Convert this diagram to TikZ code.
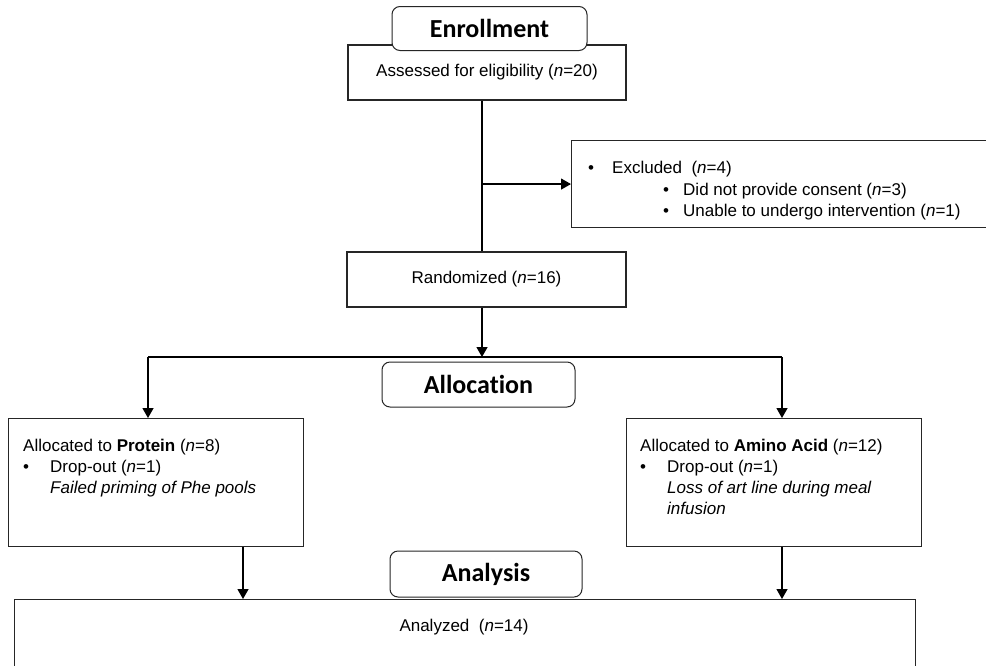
\documentclass[tikz,border=0pt]{standalone}
\usepackage{fontspec}
\setmainfont{Liberation Sans}
\newfontfamily\headfont[Ligatures=NoCommon]{Carlito}
\usetikzlibrary{arrows.meta}

\begin{document}
\begin{tikzpicture}[x=1pt, y=-1pt,
  box/.style={draw=black!85, line width=1.1pt, fill=white, inner sep=0pt,
    font=\fontsize{17}{21}\selectfont},
  stage/.style={draw=black!85, line width=1pt, rounded corners=8pt, fill=white,
    inner sep=0pt, minimum height=44pt,
    font=\headfont\bfseries\fontsize{26}{28}\selectfont},
  txt/.style={inner sep=0pt, anchor=base west, font=\fontsize{17}{21}\selectfont},
  link/.style={line width=1.3pt},
  arr/.style={line width=1.3pt, -{Triangle[length=10pt, width=11pt]}}]

\clip (0,0) rectangle (986,665);
\fill[white] (0,0) rectangle (986,665);

% trunk and branch positions
\coordinate (trunk) at (482,0);
\coordinate (colL) at (148,357);
\coordinate (colR) at (782,357);
\coordinate (dropL) at (243,0);

% enrollment
\node[box, minimum width=278pt, minimum height=55pt] (assess) at (487,72.5)
  {Assessed for eligibility (\textit{n}=20)};
\node[stage, minimum width=195pt] (enroll) at (489.5,28.5) {Enrollment};

\node[box, anchor=north west, minimum width=425pt, minimum height=87pt] (excl) at (571,140) {};
\node[txt] (b1) at (588,173) {•};
\node[txt] (e1) at (612,173) {Excluded\ \ (\textit{n}=4)};
\node[txt] (b2) at (663,195) {•};
\node[txt] (e2) at (683,195) {Did not provide consent (\textit{n}=3)};
\node[txt] (b3) at (663,216) {•};
\node[txt] (e3) at (683,216) {Unable to undergo intervention (\textit{n}=1)};

\node[box, minimum width=279pt, minimum height=55pt] (rand) at (486.5,279.5)
  {Randomized (\textit{n}=16)};

\draw[link] (assess.south -| trunk) -- (rand.north -| trunk);
\draw[arr] (trunk |- excl.west) -- (excl.west);

% allocation
\draw[arr] (rand.south -| trunk) -- (trunk |- colL);
\draw[link] (colL) -- (colR);
\node[stage, minimum width=193pt, minimum height=45pt] (alloc) at (478.5,384.5) {Allocation};

\node[box, anchor=north west, minimum width=295pt, minimum height=128pt] (prot) at (8,418) {};
\node[txt] (p1) at (23,451) {Allocated to \textbf{Protein} (\textit{n}=8)};
\node[txt] (p2) at (23,472) {•};
\node[txt] (p3) at (50,472) {Drop-out (\textit{n}=1)};
\node[txt] (p4) at (50,493) {\itshape Failed priming of Phe pools};

\node[box, anchor=north west, minimum width=295pt, minimum height=128pt] (amino) at (626,418) {};
\node[txt] (a1) at (640,451) {Allocated to \textbf{Amino Acid} (\textit{n}=12)};
\node[txt] (a2) at (640,472) {•};
\node[txt] (a3) at (667,472) {Drop-out (\textit{n}=1)};
\node[txt] (a4) at (667,493) {\itshape Loss of art line during meal};
\node[txt] (a5) at (667,514) {\itshape infusion};

\draw[arr] (colL) -- (colL |- prot.north);
\draw[arr] (colR) -- (colR |- amino.north);

% analysis
\node[box, anchor=north west, minimum width=901pt, minimum height=80pt] (final) at (14,599) {};
\node[inner sep=0pt, font=\fontsize{17}{21}\selectfont] (ftext) at (464,627) {Analyzed\ \ (\textit{n}=14)};
\node[stage, minimum width=192pt, minimum height=46pt] (anal) at (486,574) {Analysis};

\draw[arr] (prot.south -| dropL) -- (final.north -| dropL);
\draw[arr] (amino.south -| colR) -- (final.north -| colR);

\end{tikzpicture}
\end{document}
